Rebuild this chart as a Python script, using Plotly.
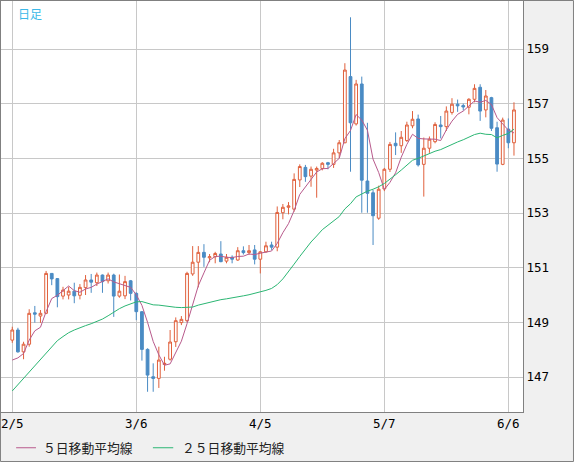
import pandas as pd
import plotly.graph_objects as go

# USD/JPY daily candles, 2024-02-05 .. 2024-06-07 (weekdays)
dates = [d.strftime("%Y-%m-%d") for d in pd.bdate_range("2024-02-05", "2024-06-07")]

opens = [148.35, 148.72, 147.92, 148.20, 149.35, 149.23, 149.33, 150.79, 150.60, 149.96,
         150.00, 150.14, 149.99, 150.27, 150.55, 150.45, 150.73, 150.52, 150.73, 149.96,
         149.97, 150.52, 150.06, 149.39, 148.01, 147.01, 146.95, 147.46, 147.65, 148.29,
         148.99, 149.06, 150.77, 151.20, 151.56, 151.36, 151.40, 151.50, 151.24, 151.38,
         151.28, 151.62, 151.55, 151.65, 151.31, 151.58, 151.83, 151.75, 153.01, 153.21,
         153.14, 154.21, 154.67, 154.35, 154.57, 154.63, 154.84, 154.78, 155.20, 155.57,
         157.99, 156.26, 157.72, 154.17, 153.74, 152.81, 153.88, 154.60, 155.55, 155.46,
         155.65, 156.19, 156.44, 154.78, 155.37, 155.61, 156.22, 156.16, 156.68, 156.98,
         156.93, 156.87, 157.16, 157.60, 156.77, 157.22, 156.12, 154.78, 156.07, 155.57]
highs = [148.84, 148.80, 148.29, 149.48, 149.60, 149.45, 150.88, 150.80, 150.62, 150.30,
         150.30, 150.45, 150.40, 150.73, 150.77, 150.82, 150.75, 150.82, 150.78, 150.75,
         150.70, 150.55, 150.10, 149.40, 148.05, 147.50, 148.11, 147.74, 148.72, 149.18,
         149.23, 150.85, 151.79, 151.79, 151.86, 151.50, 151.58, 151.97, 151.50, 151.45,
         151.75, 151.78, 151.83, 151.83, 151.60, 151.95, 151.95, 153.24, 153.33, 153.40,
         154.45, 154.78, 154.76, 154.70, 154.70, 154.86, 154.87, 155.35, 155.67, 158.48,
         160.16, 157.87, 157.99, 156.30, 153.84, 154.00, 154.65, 155.60, 155.95, 156.00,
         156.34, 156.73, 156.60, 155.76, 155.80, 156.32, 156.55, 156.90, 157.20, 157.15,
         157.00, 157.20, 157.71, 157.71, 157.50, 157.25, 156.34, 156.49, 156.46, 157.05]
lows = [148.25, 147.89, 147.65, 148.11, 148.99, 148.98, 149.30, 150.36, 149.55, 149.84,
        149.84, 149.70, 149.84, 150.00, 150.08, 150.33, 150.08, 150.42, 149.20, 149.90,
        149.85, 149.80, 149.08, 147.60, 146.46, 146.46, 146.60, 147.23, 147.60, 148.10,
        148.90, 149.00, 150.70, 150.28, 151.03, 151.20, 151.16, 151.20, 151.16, 151.16,
        151.25, 151.48, 151.47, 151.12, 150.79, 151.55, 151.65, 151.60, 152.77, 152.95,
        153.05, 153.95, 154.14, 153.96, 153.56, 154.56, 154.60, 154.65, 155.00, 155.55,
        154.51, 156.20, 153.01, 153.01, 151.83, 152.75, 153.80, 154.50, 155.12, 155.20,
        155.60, 156.10, 154.70, 153.60, 155.20, 155.55, 155.73, 156.00, 156.60, 156.70,
        156.75, 156.61, 157.05, 156.37, 156.50, 156.00, 154.51, 154.75, 155.37, 155.10]
closes = [148.72, 147.92, 148.20, 149.33, 149.30, 149.33, 150.79, 150.59, 149.94, 150.18,
          150.14, 149.97, 150.28, 150.55, 150.47, 150.73, 150.49, 150.73, 149.96, 150.14,
          150.49, 150.06, 149.39, 148.01, 147.07, 146.95, 147.62, 147.50, 148.28, 149.06,
          149.11, 150.79, 151.20, 151.56, 151.38, 151.40, 151.52, 151.22, 151.38, 151.31,
          151.62, 151.55, 151.62, 151.31, 151.58, 151.80, 151.75, 153.02, 153.21, 153.26,
          154.23, 154.70, 154.33, 154.60, 154.63, 154.82, 154.78, 155.20, 155.57, 158.23,
          156.30, 157.72, 154.20, 153.72, 152.90, 153.87, 154.60, 155.51, 155.46, 155.77,
          156.22, 156.43, 154.76, 155.37, 155.70, 156.24, 156.16, 156.73, 156.98, 156.92,
          156.88, 157.16, 157.56, 156.73, 157.28, 156.10, 154.79, 156.40, 155.57, 156.77]

ma5 = [147.62, 147.70, 147.86, 148.35, 148.69, 148.82, 149.39, 149.87, 149.99, 150.17,
       150.33, 150.16, 150.10, 150.22, 150.28, 150.40, 150.50, 150.59, 150.48, 150.41,
       150.36, 150.28, 150.01, 149.62, 149.00, 148.30, 147.81, 147.43, 147.48, 147.88,
       148.31, 148.95, 149.69, 150.34, 150.81, 151.27, 151.41, 151.42, 151.38, 151.37,
       151.41, 151.42, 151.50, 151.48, 151.53, 151.57, 151.61, 151.89, 152.28, 152.61,
       153.09, 153.68, 153.95, 154.22, 154.50, 154.62, 154.63, 154.81, 155.00, 155.72,
       156.02, 156.60, 156.40, 156.03, 154.97, 154.48, 153.86, 154.12, 154.47, 155.04,
       155.51, 155.88, 155.73, 155.71, 155.70, 155.70, 155.65, 156.04, 156.36, 156.61,
       156.73, 156.93, 157.10, 157.05, 157.12, 156.97, 156.49, 156.26, 156.03, 155.93]
ma25 = [146.49, 146.72, 146.93, 147.15, 147.38, 147.60, 147.85, 148.10, 148.33, 148.48,
        148.62, 148.72, 148.81, 148.88, 148.95, 149.03, 149.12, 149.24, 149.38, 149.50,
        149.60, 149.68, 149.75, 149.76, 149.71, 149.64, 149.63, 149.60, 149.56, 149.55,
        149.54, 149.54, 149.56, 149.63, 149.68, 149.73, 149.79, 149.83, 149.86, 149.89,
        149.93, 149.97, 150.01, 150.06, 150.12, 150.17, 150.24, 150.38, 150.59, 150.84,
        151.13, 151.41, 151.69, 151.94, 152.16, 152.39, 152.55, 152.71, 152.87, 153.15,
        153.34, 153.59, 153.71, 153.80, 153.87, 153.96, 154.08, 154.23, 154.40, 154.57,
        154.74, 154.93, 155.00, 155.09, 155.18, 155.26, 155.32, 155.42, 155.51, 155.60,
        155.68, 155.78, 155.87, 155.92, 155.88, 155.87, 155.75, 155.84, 155.91, 156.07]

tick_dates = ["2024-02-05", "2024-03-06", "2024-04-05", "2024-05-07", "2024-06-06"]
tick_labels = ["2/5", "3/6", "4/5", "5/7", "6/6"]
price_ticks = [147, 149, 151, 153, 155, 157, 159]

UP = "#e0603c"
DOWN = "#4a8bc4"
MA5_COLOR = "#b85a8c"
MA25_COLOR = "#2bb673"
GRID = "#c8c8c8"

fig = go.Figure()
fig.add_trace(go.Candlestick(
    x=dates, open=opens, high=highs, low=lows, close=closes,
    increasing=dict(line=dict(color=UP, width=1), fillcolor="white"),
    decreasing=dict(line=dict(color=DOWN, width=1), fillcolor=DOWN),
    whiskerwidth=0, name="日足", showlegend=False, hoverinfo="skip",
))
fig.add_trace(go.Scatter(x=dates, y=ma5, mode="lines", name="５日移動平均線",
                         line=dict(color=MA5_COLOR, width=1), showlegend=False))
fig.add_trace(go.Scatter(x=dates, y=ma25, mode="lines", name="２５日移動平均線",
                         line=dict(color=MA25_COLOR, width=1), showlegend=False))

# hand-made legend under the plot, like the original
legend_items = [("５日移動平均線", MA5_COLOR, 0.029, 0.067, 0.077),
                ("２５日移動平均線", MA25_COLOR, 0.291, 0.330, 0.342)]
shapes = []
annotations = []
for label, color, x0, x1, xt in legend_items:
    shapes.append(dict(type="line", xref="paper", yref="paper", x0=x0, x1=x1,
                       y0=-0.087, y1=-0.087, line=dict(color=color, width=1)))
    annotations.append(dict(text=label, xref="paper", yref="paper", x=xt, y=-0.087,
                            xanchor="left", yanchor="middle", showarrow=False,
                            font=dict(family="Noto Sans CJK JP", size=12.8, color="#222222")))
annotations.append(dict(text="日足", xref="paper", yref="paper", x=0.029, y=0.994,
                        xanchor="left", yanchor="top", showarrow=False,
                        font=dict(family="Noto Sans CJK JP", size=12, color="#3cb8e8")))
# outer frame of the whole picture
shapes.append(dict(type="rect", xref="paper", yref="paper", x0=-0.001, x1=1.0967,
                   y0=-0.1204, y1=1.0012, line=dict(color="#808080", width=1)))

fig.update_layout(
    width=574, height=462,
    margin=dict(l=1, r=51, t=1, b=50),
    paper_bgcolor="#f0f0f0",
    plot_bgcolor="white",
    boxgap=0.3,
    shapes=shapes,
    annotations=annotations,
    font=dict(family="DejaVu Sans Mono", size=12.5, color="black"),
    xaxis=dict(
        type="category", range=[-2.0, 90.6],
        tickvals=tick_dates, ticktext=tick_labels,
        showgrid=True, gridcolor=GRID, gridwidth=1,
        showline=True, mirror=True, linecolor="#808080", linewidth=1,
        ticks="", rangeslider=dict(visible=False), fixedrange=True,
    ),
    yaxis=dict(
        side="right", range=[145.72, 160.756],
        tickvals=price_ticks,
        showgrid=True, gridcolor=GRID, gridwidth=1, zeroline=False,
        showline=True, mirror=True, linecolor="#808080", linewidth=1,
        ticks="", fixedrange=True,
    ),
)

fig.write_html("out.html", config={"displayModeBar": False},
               post_script="document.body.style.margin='0px';")
